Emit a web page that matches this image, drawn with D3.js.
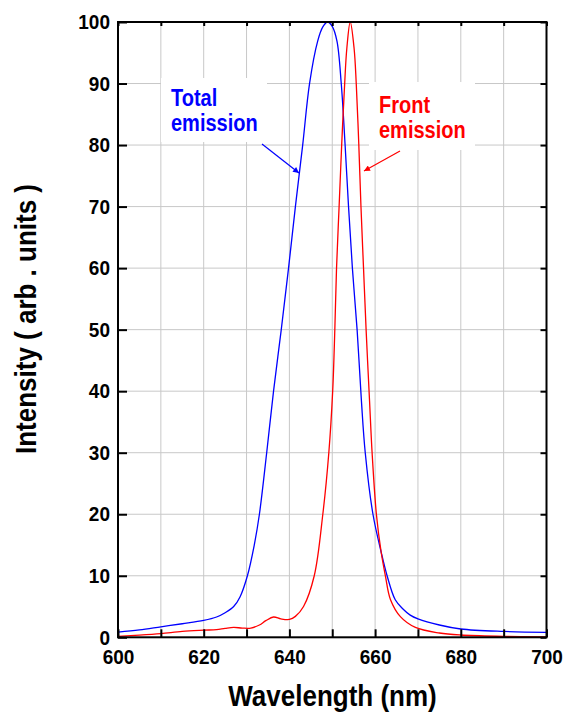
<!DOCTYPE html>
<html>
<head>
<meta charset="utf-8">
<script src="https://cdn.jsdelivr.net/npm/d3@7"></script>
<style>
  body { margin: 0; background: #fff; }
  text { font-family: "Liberation Sans", Arial, sans-serif; font-weight: bold; }
</style>
</head>
<body>
<div id="chart"></div>
<script>
// total emission (blue)
var totalNm  = [600, 605, 610, 615, 620, 623, 625, 627, 628.5, 630.2, 631.8, 633.0, 634.7, 636.3, 638.1, 639.8, 641.4, 643.1, 644.7, 646.6, 647.8, 648.9, 650.0, 651.1, 652.1, 653.0, 653.8, 654.7, 655.8, 656.8, 657.7, 659.5, 661.4, 662.8, 664.7, 666.5, 668.2, 670, 675, 680, 690, 700];
var totalVal = [0.85, 1.2, 1.7, 2.2, 2.75, 3.3, 4.0, 5.0, 6.6, 10, 15, 20, 30, 40, 50, 60, 70, 80, 90, 96.9, 99.2, 100, 99.3, 96.9, 90, 80, 70, 60, 50, 38.5, 30, 20, 13.9, 10, 6.1, 4.6, 3.6, 3.0, 2.0, 1.35, 0.95, 0.8];

// front emission (red)
var frontNm  = [600, 605, 610, 615, 620, 623, 625, 627, 629, 631, 633, 634.5, 636.3, 638, 640, 641.4, 643.3, 645.8, 647.8, 649.2, 650.1, 650.6, 651.0, 651.6, 652.2, 652.9, 653.4, 654.2, 655.1, 655.6, 656.2, 656.7, 657.3, 657.9, 658.7, 659.3, 660.3, 661.4, 662.4, 663.6, 665.9, 669.4, 675, 680, 690, 700];
var frontVal = [0.15, 0.35, 0.6, 0.95, 1.15, 1.25, 1.45, 1.6, 1.5, 1.5, 2.0, 2.7, 3.3, 3.0, 2.9, 3.4, 5.0, 10, 20, 30, 40, 50, 60, 70, 80, 90, 95.7, 100, 95.7, 90, 80, 70, 60, 50, 38.5, 30, 20, 13.9, 10, 6.1, 3.35, 1.6, 0.7, 0.37, 0.15, 0.05];

var xTicks = [600, 610, 620, 630, 640, 650, 660, 670, 680, 690, 700];
var xLabels = [600, 620, 640, 660, 680, 700];
var yTicks = [0, 10, 20, 30, 40, 50, 60, 70, 80, 90, 100];

var W = 575, H = 713;
var pLeft = 118, pRight = 546.5, pTop = 22, pBottom = 637.3;

var x = d3.scaleLinear().domain([600, 700]).range([pLeft, pRight]);
var y = d3.scaleLinear().domain([0, 100]).range([pBottom, pTop]);

var svg = d3.select("#chart").append("svg")
    .attr("width", W)
    .attr("height", H);

var defs = svg.append("defs");
function arrowHead(id, color) {
    defs.append("marker")
        .attr("id", id)
        .attr("viewBox", "0 0 10 10")
        .attr("refX", 10).attr("refY", 5)
        .attr("markerWidth", 8).attr("markerHeight", 6)
        .attr("markerUnits", "userSpaceOnUse")
        .attr("orient", "auto")
        .append("path")
        .attr("d", "M0,0 L10,5 L0,10 z")
        .attr("fill", color);
}
arrowHead("arrBlue", "#0000ff");
arrowHead("arrRed", "#ff0000");

// grid
svg.append("g").selectAll("line")
    .data(xTicks.slice(1, -1))
    .enter().append("line")
    .attr("x1", d => x(d)).attr("x2", d => x(d))
    .attr("y1", pTop).attr("y2", pBottom)
    .attr("stroke", "#c8c8c8").attr("stroke-width", 1);

svg.append("g").selectAll("line")
    .data(yTicks.slice(1, -1))
    .enter().append("line")
    .attr("x1", pLeft).attr("x2", pRight)
    .attr("y1", d => y(d)).attr("y2", d => y(d))
    .attr("stroke", "#c8c8c8").attr("stroke-width", 1);

// label boxes hide the grid
svg.append("rect").attr("x", 161).attr("y", 78).attr("width", 106).attr("height", 64).attr("fill", "#fff");
svg.append("rect").attr("x", 369).attr("y", 82).attr("width", 106).attr("height", 68).attr("fill", "#fff");

// curves
var line = d3.line()
    .x(d => x(d[0]))
    .y(d => y(d[1]))
    .curve(d3.curveCatmullRom.alpha(0.5));

svg.append("path")
    .datum(d3.zip(totalNm, totalVal))
    .attr("d", line)
    .attr("fill", "none")
    .attr("stroke", "#0000ff")
    .attr("stroke-width", 1.3);

svg.append("path")
    .datum(d3.zip(frontNm, frontVal))
    .attr("d", line)
    .attr("fill", "none")
    .attr("stroke", "#ff0000")
    .attr("stroke-width", 1.3);

// axes
function styleAxis(g) {
    g.select(".domain").remove();
    g.selectAll(".tick line").attr("stroke", "#000").attr("stroke-width", 2);
    g.selectAll(".tick text").attr("fill", "#000").style("font-size", "19px")
        .attr("transform", "scale(1,1.1)")
        .style("font-family", "'Liberation Sans', Arial, sans-serif").style("font-weight", "bold");
}

svg.append("g")
    .attr("transform", "translate(0," + pBottom + ")")
    .call(d3.axisBottom(x).tickValues(xTicks).tickSize(-8).tickPadding(11)
        .tickFormat(d => xLabels.indexOf(d) >= 0 ? d : ""))
    .call(styleAxis);

svg.append("g")
    .attr("transform", "translate(0," + pTop + ")")
    .call(d3.axisTop(x).tickValues(xTicks).tickSize(-4).tickFormat(""))
    .call(styleAxis);

svg.append("g")
    .attr("transform", "translate(" + pLeft + ",0)")
    .call(d3.axisLeft(y).tickValues(yTicks).tickSize(-9).tickPadding(8))
    .call(styleAxis);

svg.append("g")
    .attr("transform", "translate(" + pRight + ",0)")
    .call(d3.axisRight(y).tickValues(yTicks).tickSize(-6).tickFormat(""))
    .call(styleAxis);

// frame
svg.append("rect")
    .attr("x", pLeft).attr("y", pTop)
    .attr("width", pRight - pLeft).attr("height", pBottom - pTop)
    .attr("fill", "none").attr("stroke", "#000").attr("stroke-width", 2);

// text helper, glyphs a little taller than wide like the original
function label(px, py, str, size, color, stretch, extra) {
    return svg.append("text")
        .attr("transform", "translate(" + px + "," + py + ")" + (extra || "") + " scale(1," + stretch + ")")
        .attr("fill", color)
        .style("font-size", size + "px")
        .text(str);
}

// axis titles
label(332.5, 706, "Wavelength (nm)", 26, "#000", 1.12).attr("text-anchor", "middle");
label(36, 319, "Intensity ( arb . units )", 26, "#000", 1.12, " rotate(-90)").attr("text-anchor", "middle");

// annotations
label(171, 106, "Total", 20, "#0000ff", 1.15);
label(171, 131, "emission", 20, "#0000ff", 1.15);
svg.append("line")
    .attr("x1", 262).attr("y1", 144).attr("x2", 299).attr("y2", 173)
    .attr("stroke", "#0000ff").attr("stroke-width", 1.2)
    .attr("marker-end", "url(#arrBlue)");

label(379, 113, "Front", 20, "#ff0000", 1.15);
label(379, 138, "emission", 20, "#ff0000", 1.15);
svg.append("line")
    .attr("x1", 400).attr("y1", 151).attr("x2", 364).attr("y2", 171)
    .attr("stroke", "#ff0000").attr("stroke-width", 1.2)
    .attr("marker-end", "url(#arrRed)");
</script>
</body>
</html>
